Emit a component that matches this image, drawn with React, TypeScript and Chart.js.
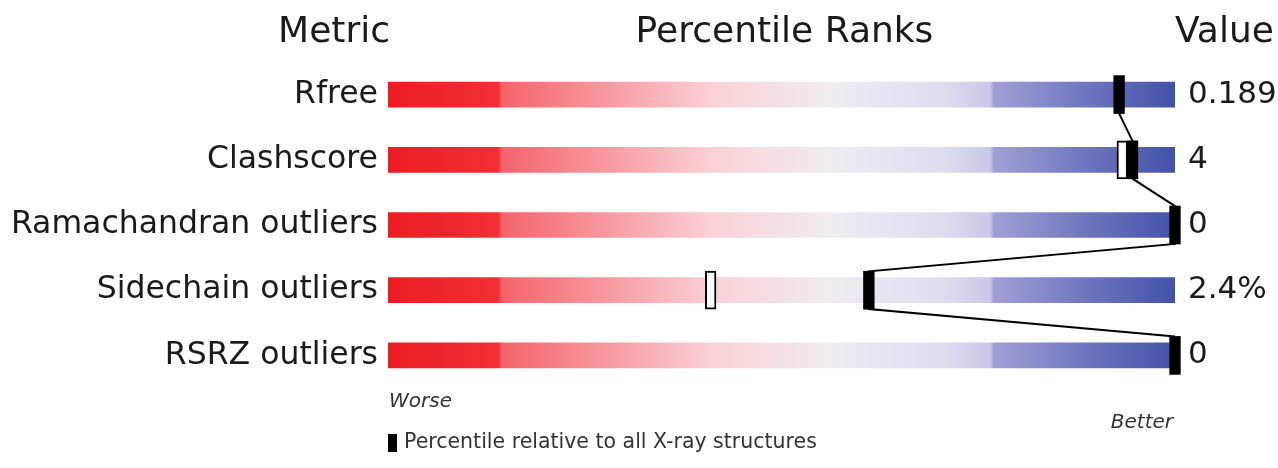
import React, { useEffect, useRef } from 'react';
import { Chart, registerables } from 'chart.js';

Chart.register(...registerables);

// ---- data ----
const metrics = ['Rfree', 'Clashscore', 'Ramachandran outliers', 'Sidechain outliers', 'RSRZ outliers'];
const valueLabels = ['0.189', '4', '0', '2.4%', '0'];
const percentileAll = [92.9, 94.6, 100, 61.1, 100];
const percentileSimilar: (number | null)[] = [null, 93.3, null, 41.0, null];
const headers = ['Metric', 'Percentile Ranks', 'Value'];
const scaleEnds = ['Worse', 'Better'];
const legendText = 'Percentile relative to all X-ray structures';

// ---- styling constants ----
const FONT = "'DejaVu Sans', sans-serif";
const MARKER_HALF_W = 0.68; // percentile units
const MARKER_HALF_H = 0.29; // row units

const gradientStops: [number, string][] = [
  [0, 'rgb(236,28,34)'],
  [0.14, 'rgb(240,48,52)'],
  [0.145, 'rgb(244,100,106)'],
  [0.27, 'rgb(247,150,156)'],
  [0.41, 'rgb(250,208,213)'],
  [0.56, 'rgb(240,236,241)'],
  [0.7, 'rgb(222,222,240)'],
  [0.765, 'rgb(200,200,232)'],
  [0.77, 'rgb(160,160,214)'],
  [0.88, 'rgb(112,120,192)'],
  [1, 'rgb(66,82,170)'],
];

const headerPlugin = {
  id: 'headerPlugin',
  afterDraw(chart: any) {
    const { ctx, chartArea } = chart;
    const { left, right, top, bottom } = chartArea;
    ctx.save();
    ctx.fillStyle = '#1a1a1a';
    ctx.textBaseline = 'middle';
    ctx.font = `36px ${FONT}`;
    ctx.textAlign = 'right';
    ctx.fillText(headers[0], left + 2, top - 29);
    ctx.textAlign = 'center';
    ctx.fillText(headers[1], (left + right) / 2 + 3, top - 29);
    ctx.textAlign = 'left';
    ctx.fillText(headers[2], right, top - 29);

    ctx.fillStyle = '#333';
    ctx.font = `italic 20px ${FONT}`;
    ctx.textAlign = 'left';
    ctx.fillText(scaleEnds[0], left + 1, bottom + 14);
    ctx.textAlign = 'right';
    ctx.fillText(scaleEnds[1], right - 2, bottom + 35);

    ctx.fillStyle = '#000';
    ctx.fillRect(left, bottom + 46, 9, 18);
    ctx.fillStyle = '#333';
    ctx.font = `20.5px ${FONT}`;
    ctx.textAlign = 'left';
    ctx.fillText(legendText, left + 16, bottom + 55);
    ctx.restore();
  },
};

export default function App() {
  const canvasRef = useRef<HTMLCanvasElement | null>(null);

  useEffect(() => {
    if (!canvasRef.current) return;
    const n = metrics.length;

    const barData = metrics.map((_, i) => ({ y: i, x: [0, 100] }));
    const allData = percentileAll.map((p, i) => ({ y: i, x: [p - MARKER_HALF_W, p + MARKER_HALF_W] }));
    const simData = percentileSimilar
      .map((p, i) => (p === null ? null : { y: i, x: [p - MARKER_HALF_W, p + MARKER_HALF_W] }))
      .filter((d) => d !== null);
    const linkData: { x: number; y: number }[] = [];
    percentileAll.forEach((p, i) => {
      if (i > 0) linkData.push({ x: p, y: i - MARKER_HALF_H });
      if (i < n - 1) linkData.push({ x: p, y: i + MARKER_HALF_H });
    });

    const tickList = metrics.map((_, i) => ({ value: i }));

    const fitLeft = (s: any) => {
      s.width = 388;
      s.paddingTop = 0;
      s.paddingBottom = 0;
    };
    const fitRight = (s: any) => {
      s.width = 103;
      s.paddingTop = 0;
      s.paddingBottom = 0;
    };

    const chart = new Chart(canvasRef.current, {
      type: 'bar',
      data: {
        datasets: [
          {
            type: 'bar',
            data: barData as any,
            grouped: false,
            barThickness: 25,
            order: 4,
            backgroundColor: (c: any) => {
              const chartObj = c.chart;
              const xs = chartObj.scales.x;
              if (!xs || !chartObj.chartArea) return gradientStops[0][1];
              const g = chartObj.ctx.createLinearGradient(xs.getPixelForValue(0), 0, xs.getPixelForValue(100), 0);
              gradientStops.forEach(([o, col]) => g.addColorStop(o, col));
              return g;
            },
          } as any,
          {
            type: 'bar',
            data: simData as any,
            grouped: false,
            barThickness: 38,
            order: 2,
            clip: false,
            backgroundColor: '#ffffff',
            borderColor: '#000000',
            borderWidth: 2,
            borderSkipped: false,
          } as any,
          {
            type: 'line',
            indexAxis: 'y',
            data: linkData as any,
            order: 1,
            clip: false,
            borderColor: '#000000',
            borderWidth: 2,
            pointRadius: 0,
            fill: false,
            tension: 0,
          } as any,
          {
            type: 'bar',
            data: allData as any,
            grouped: false,
            barThickness: 38,
            order: 0,
            clip: false,
            backgroundColor: '#000000',
            borderWidth: 0,
          } as any,
        ],
      },
      options: {
        indexAxis: 'y',
        animation: false,
        responsive: true,
        maintainAspectRatio: false,
        layout: { padding: { top: 62, bottom: 80, left: 0, right: 0 } },
        plugins: {
          legend: { display: false },
          tooltip: { enabled: false },
        },
        scales: {
          x: {
            type: 'linear',
            min: 0,
            max: 100,
            offset: false,
            display: false,
          },
          y: {
            type: 'linear',
            position: 'left',
            min: -0.5,
            max: n - 0.5,
            offset: false,
            reverse: true,
            grid: { display: false, drawTicks: false, offset: false },
            border: { display: false },
            afterBuildTicks: (s: any) => {
              s.ticks = tickList.map((t) => ({ ...t }));
            },
            afterFit: fitLeft,
            ticks: {
              padding: 10,
              color: '#1a1a1a',
              font: { family: FONT, size: 31.5 },
              callback: (v: any) => metrics[Math.round(Number(v))] ?? '',
            },
          },
          yRight: {
            type: 'linear',
            position: 'right',
            min: -0.5,
            max: n - 0.5,
            offset: false,
            reverse: true,
            grid: { display: false, drawTicks: false, offset: false },
            border: { display: false },
            afterBuildTicks: (s: any) => {
              s.ticks = tickList.map((t) => ({ ...t }));
            },
            afterFit: fitRight,
            ticks: {
              padding: 13,
              color: '#1a1a1a',
              font: { family: FONT, size: 31 },
              callback: (v: any) => valueLabels[Math.round(Number(v))] ?? '',
            },
          },
        },
      } as any,
      plugins: [headerPlugin],
    });

    return () => chart.destroy();
  }, []);

  return (
    <div style={{ position: 'fixed', left: 0, top: 0, width: 1278, height: 468, background: '#ffffff' }}>
      <canvas ref={canvasRef} style={{ display: 'block' }} />
    </div>
  );
}
